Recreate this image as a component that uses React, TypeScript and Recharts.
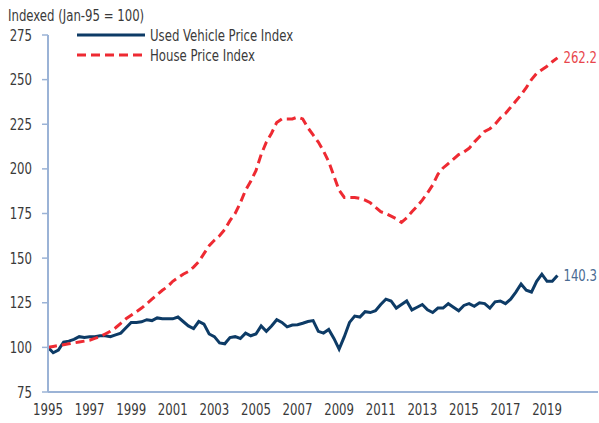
import { LineChart, Line, XAxis, YAxis } from "recharts";

// quarterly readings, first point Q1 1995
const START_YEAR = 1995;

const usedVehicle = [
  100, 97, 98.5, 103, // 1995
  103.5, 104.5, 106, 105.5, // 1996
  106, 106, 106.5, 106.5, // 1997
  106, 107, 108, 111, // 1998
  114, 114, 114.3, 115.5, // 1999
  115, 116.5, 116, 116, // 2000
  116, 117, 114.5, 112, // 2001
  110.5, 114.5, 113, 107.5, // 2002
  106, 102.5, 102, 105.5, // 2003
  106, 105, 108, 106.5, // 2004
  107.5, 112, 109, 112, // 2005
  115.5, 114, 111.5, 112.5, // 2006
  112.7, 113.5, 114.5, 115, // 2007
  109, 108, 110, 105, // 2008
  99, 106, 114, 117.5, // 2009
  117, 120, 119.5, 120.5, // 2010
  124, 127, 126, 122, // 2011
  124, 126, 121, 122.5, // 2012
  124, 121, 119.5, 122, // 2013
  122, 124.5, 122.5, 120.5, // 2014
  123.5, 124.5, 123, 125, // 2015
  124.5, 122, 125.5, 126, // 2016
  124.5, 127, 131, 135.5, // 2017
  132, 131, 137, 141, // 2018
  137, 137, 140.3, // 2019
];

const housePrice = [
  100, 100.5, 101, 101.5, // 1995
  102, 102.5, 103, 103.5, // 1996
  104, 105, 106, 107.5, // 1997
  109, 111, 113.5, 116, // 1998
  118, 120, 122, 124.5, // 1999
  127, 129.5, 132, 134, // 2000
  137, 139, 141, 142.5, // 2001
  145, 148, 152.5, 157, // 2002
  160, 162.5, 166, 171, // 2003
  175, 181, 188, 193, // 2004
  199, 208, 215, 220, // 2005
  226, 228, 228, 228, // 2006
  229, 228, 223, 219, // 2007
  215, 210, 204, 196, // 2008
  188, 184, 184, 184, // 2009
  183.5, 182.5, 181, 178.5, // 2010
  176, 175, 173.5, 172, // 2011
  170, 172.5, 176, 179, // 2012
  182.5, 186.5, 191, 197, // 2013
  200.5, 203, 205.5, 208, // 2014
  209.5, 211.5, 215, 218, // 2015
  221, 222.5, 225, 228.5, // 2016
  231, 234.5, 238, 241.5, // 2017
  245.5, 250, 253.5, 255.5, // 2018
  257.5, 260, 262.2, // 2019
];

const yearTicks = [1995, 1997, 1999, 2001, 2003, 2005, 2007, 2009, 2011, 2013, 2015, 2017, 2019];
const valueTicks = [75, 100, 125, 150, 175, 200, 225, 250, 275];

const toSeries = (values: number[]) =>
  values.map((v, i) => ({ x: START_YEAR + i / 4, v }));

const vehicleData = toSeries(usedVehicle);
const houseData = toSeries(housePrice);

const FONT = "'DejaVu Sans Condensed', 'Liberation Sans Narrow', sans-serif";
const AXIS_COLOR = "#9bb3d6";
const TEXT_COLOR = "#3a3a3a";
const NAVY = "#0d3b66";
const RED = "#ee2a32";
const FONT_SIZE = 16;
const SQUEEZE = 0.815;

// condensed look: squeeze glyphs horizontally around the anchor point
function NarrowText({
  x,
  y,
  anchor = "start",
  fill = TEXT_COLOR,
  dy = "0.35em",
  children,
}: {
  x: number;
  y: number;
  anchor?: "start" | "middle" | "end";
  fill?: string;
  dy?: string;
  children: any;
}) {
  return (
    <text
      transform={`translate(${x},${y}) scale(${SQUEEZE},1)`}
      textAnchor={anchor}
      dy={dy}
      fill={fill}
      fontSize={FONT_SIZE}
      fontFamily={FONT}
    >
      {children}
    </text>
  );
}

const XTick = (props: any) => {
  const { x, y, payload } = props;
  return (
    <NarrowText x={x} y={y - 1} anchor="middle" dy="0.71em">
      {payload.value}
    </NarrowText>
  );
};

const YTick = (props: any) => {
  const { x, y, payload } = props;
  return (
    <NarrowText x={x} y={y} anchor="end">
      {payload.value}
    </NarrowText>
  );
};

const endLabel = (count: number, color: string) => (props: any) => {
  const { x, y, index, value } = props;
  if (index !== count - 1) return null;
  return (
    <NarrowText x={x + 6} y={y} fill={color}>
      {value}
    </NarrowText>
  );
};

export default function App() {
  return (
    <div
      style={{
        position: "absolute",
        left: 0,
        top: 0,
        width: 599,
        height: 423,
        background: "#fff",
      }}
    >
      <LineChart
        width={599}
        height={423}
        margin={{ top: 35, right: 1, left: 0, bottom: 0 }}
      >
        <XAxis
          type="number"
          dataKey="x"
          domain={[1995, 2021.45]}
          ticks={yearTicks}
          allowDataOverflow
          height={31}
          tickLine={false}
          tickSize={0}
          tickMargin={13}
          axisLine={{ stroke: AXIS_COLOR, strokeWidth: 2 }}
          tick={<XTick />}
        />
        <YAxis
          type="number"
          domain={[75, 275]}
          ticks={valueTicks}
          width={48}
          tickSize={6}
          tickMargin={10}
          axisLine={{ stroke: AXIS_COLOR, strokeWidth: 2 }}
          tickLine={{ stroke: AXIS_COLOR, strokeWidth: 1.5 }}
          tick={<YTick />}
        />
        <Line
          data={vehicleData}
          dataKey="v"
          type="linear"
          stroke={NAVY}
          strokeWidth={3}
          dot={false}
          isAnimationActive={false}
          label={endLabel(vehicleData.length, "#4a6b92")}
        />
        <Line
          data={houseData}
          dataKey="v"
          type="linear"
          stroke={RED}
          strokeWidth={3}
          strokeDasharray="9 5"
          dot={false}
          isAnimationActive={false}
          label={endLabel(houseData.length, "#e8464c")}
        />
        <NarrowText x={8} y={15}>Indexed (Jan-95 = 100)</NarrowText>
        <line x1={77} x2={145} y1={35} y2={35} stroke={NAVY} strokeWidth={3} />
        <NarrowText x={150} y={35}>Used Vehicle Price Index</NarrowText>
        <line x1={77} x2={145} y1={55} y2={55} stroke={RED} strokeWidth={3} strokeDasharray="9 5" />
        <NarrowText x={150} y={55}>House Price Index</NarrowText>
      </LineChart>
    </div>
  );
}
